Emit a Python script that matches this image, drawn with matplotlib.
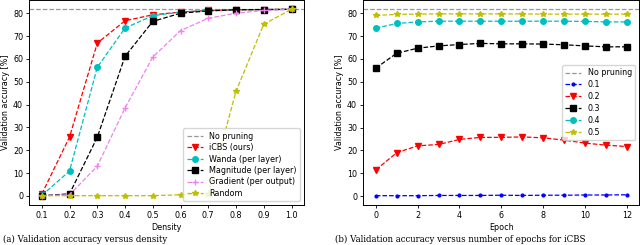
import numpy as np
import matplotlib
matplotlib.use("Agg")
import matplotlib.pyplot as plt

### Data for left panel (accuracy vs density)
density = [0.1, 0.2, 0.3, 0.4, 0.5, 0.6, 0.7, 0.8, 0.9, 1.0]
no_pruning = 81.7
icbs = [0.8, 25.8, 66.9, 76.7, 79.3, 80.5, 81.2, 81.5, 81.6, 81.7]
wanda = [0.2, 10.9, 56.3, 73.5, 78.9, 80.5, 81.2, 81.5, 81.6, 81.7]
magnitude = [0.1, 0.9, 25.7, 61.1, 76.4, 80.0, 81.0, 81.5, 81.6, 81.7]
gradient = [0.1, 0.5, 13.0, 38.5, 60.8, 72.4, 77.8, 80.0, 81.2, 81.7]
random_ = [0.1, 0.1, 0.1, 0.1, 0.1, 0.5, 1.0, 45.8, 75.2, 81.7]

### Data for right panel (accuracy vs epoch for iCBS)
epochs = list(range(13))
acc_01 = [0.2, 0.2, 0.2, 0.3, 0.3, 0.3, 0.4, 0.3, 0.4, 0.4, 0.5, 0.5, 0.6]
acc_02 = [11.5, 19.0, 22.0, 22.6, 24.8, 25.7, 25.7, 25.9, 25.5, 24.5, 23.2, 22.3, 21.7]
acc_03 = [56.0, 62.5, 64.7, 65.7, 66.3, 66.8, 66.6, 66.6, 66.5, 66.2, 65.7, 65.3, 65.3]
acc_04 = [73.5, 75.5, 76.2, 76.5, 76.5, 76.5, 76.5, 76.5, 76.5, 76.5, 76.4, 76.2, 76.2]
acc_05 = [79.0, 79.5, 79.6, 79.7, 79.7, 79.7, 79.7, 79.7, 79.6, 79.6, 79.6, 79.6, 79.6]

fs = 5.8
plt.rcParams["font.size"] = fs
plt.rcParams["lines.linewidth"] = 0.9
plt.rcParams["xtick.major.size"] = 2.5
plt.rcParams["ytick.major.size"] = 2.5
plt.rcParams["xtick.major.width"] = 0.6
plt.rcParams["ytick.major.width"] = 0.6
plt.rcParams["axes.linewidth"] = 0.7

fig = plt.figure(figsize=(6.4, 2.45), dpi=100)
ax1 = fig.add_axes([29.3 / 640, 40 / 245, 274.7 / 640, 205 / 245])
ax2 = fig.add_axes([363.3 / 640, 40 / 245, 276 / 640, 205 / 245])

### Left panel
ms = 4
ax1.axhline(no_pruning, color="grey", ls="--", alpha=0.8, label="No pruning")
ax1.plot(density, icbs, "r--", marker="v", ms=ms, label="iCBS (ours)")
ax1.plot(density, wanda, "c--", marker="o", ms=ms, label="Wanda (per layer)")
ax1.plot(density, magnitude, "k--", marker="s", ms=ms, label="Magnitude (per layer)")
ax1.plot(density, gradient, "--", color="violet", marker="+", ms=ms + 1, label="Gradient (per output)")
ax1.plot(density, random_, "y--", marker="*", ms=ms, label="Random")
ax1.set_xticks(density)
ax1.set_xlabel("Density", fontsize=fs, labelpad=2)
ax1.set_ylabel("Validation accuracy [%]", fontsize=fs, labelpad=2)
ax1.tick_params(labelsize=fs, pad=2)
ax1.legend(loc="lower right", fontsize=fs, handlelength=2, borderpad=0.4, labelspacing=0.3)

### Right panel
ax2.axhline(no_pruning, color="grey", ls="--", alpha=0.8, label="No pruning")
ax2.plot(epochs, acc_01, "b--", marker=".", ms=ms, label="0.1")
ax2.plot(epochs, acc_02, "r--", marker="v", ms=ms, label="0.2")
ax2.plot(epochs, acc_03, "k--", marker="s", ms=ms, label="0.3")
ax2.plot(epochs, acc_04, "c--", marker="o", ms=ms, label="0.4")
ax2.plot(epochs, acc_05, "y--", marker="*", ms=ms, label="0.5")
ax2.set_xticks(range(0, 13, 2))
ax2.set_xlabel("Epoch", fontsize=fs, labelpad=2)
ax2.set_ylabel("Validation accuracy [%]", fontsize=fs, labelpad=2)
ax2.tick_params(labelsize=fs, pad=2)
ax2.legend(loc="center right", fontsize=fs, handlelength=2, borderpad=0.4, labelspacing=0.35)

### Captions along the bottom edge
fig.text(3 / 640, 1 / 245, "(a) Validation accuracy versus density",
         family="DejaVu Serif", fontsize=6.2, va="bottom")
fig.text(335 / 640, 1 / 245, "(b) Validation accuracy versus number of epochs for iCBS",
         family="DejaVu Serif", fontsize=6.2, va="bottom")

plt.savefig("out.png", dpi=100)
